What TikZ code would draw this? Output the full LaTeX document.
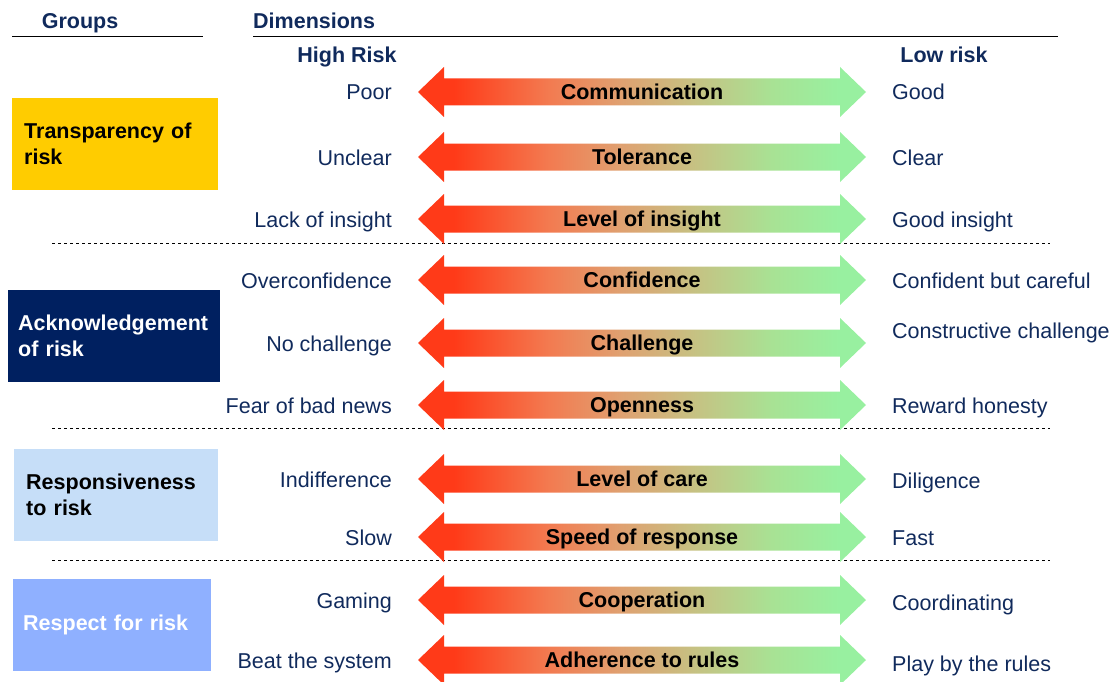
\documentclass[tikz,border=0pt]{standalone}
\usepackage{fontspec}
\setmainfont{Liberation Sans}
\definecolor{navy}{HTML}{102A5C}
\definecolor{boxnavy}{HTML}{002060}
\definecolor{boxyellow}{HTML}{FFCC00}
\definecolor{boxpale}{HTML}{C6DEF8}
\definecolor{boxblue}{HTML}{8FB0FF}
\definecolor{arred}{HTML}{FF3A18}
\definecolor{arorange}{HTML}{F37A50}
\definecolor{artan}{HTML}{E0A070}
\definecolor{arolive}{HTML}{C4C484}
\definecolor{arlime}{HTML}{A8E294}
\definecolor{argreen}{HTML}{98F0A0}
% red-to-green band used for every dimension arrow (path spans 25bp..75bp)
\pgfdeclarehorizontalshading{riskband}{100bp}{color(0bp)=(arred); color(29bp)=(arred); color(39.5bp)=(arorange); color(47.5bp)=(artan); color(56.5bp)=(arolive); color(64.5bp)=(arlime); color(72bp)=(argreen); color(100bp)=(argreen)}
\begin{document}
\begin{tikzpicture}[x=1pt,y=-1pt,
  txt/.style={inner sep=0pt,font=\fontsize{21.5}{26}\selectfont},
  head/.style={txt,font=\fontsize{21.5}{26}\selectfont\bfseries,text=navy},
  lowlab/.style={txt,text=navy,anchor=base east},
  highlab/.style={txt,text=navy,anchor=base west},
  dimlab/.style={txt,font=\fontsize{21.5}{26}\selectfont\bfseries,anchor=base},
  grpbox/.style={anchor=north west,minimum height=92pt,inner ysep=0pt,
    align=left,font=\fontsize{21.5}{26}\selectfont\bfseries},
  rule/.style={line width=1pt},
  sep/.style={line width=0.8pt,dash pattern=on 3pt off 3pt},
  band/.style={shading=riskband}]
\useasboundingbox (0,0) rectangle (1118,682);

% column headings
\node[head,anchor=base] (groups) at (80,29) {Groups};
\node[head,anchor=base west] (dims) at (253,29) {Dimensions};
\draw[rule] (12,37) -- (203,37);
\draw[rule] (253,37) -- (1058,37);
\node[head,anchor=base] (highrisk) at (347,63) {High Risk};
\node[head,anchor=base] (lowrisk) at (944,63) {Low risk};

% group boxes
\node[grpbox,fill=boxyellow,text=black,minimum width=206pt,inner xsep=12pt,text width=182pt]
  (g1) at (12,98) {Transparency of\\risk};
\node[grpbox,fill=boxnavy,text=white,minimum width=211pt,inner xsep=10pt,text width=192pt]
  (g2) at (8,290) {Acknowledgement\\of risk};
\node[grpbox,fill=boxpale,text=black,minimum width=204pt,inner xsep=12pt,text width=180pt]
  (g3) at (14,449) {Responsiveness\\to risk};
\node[grpbox,fill=boxblue,text=white,minimum width=198pt,inner xsep=10pt,text width=178pt]
  (g4) at (13,579) {Respect for risk};

% dashed separators between groups
\draw[sep] (52,243) -- (1050,243);
\draw[sep] (52,428) -- (1050,428);
\draw[sep] (52,560) -- (1050,560);

% dimension rows: double arrow with high/low risk descriptions
\foreach \y/\lt/\dt/\rt/\ry [count=\i] in {
  92/Poor/Communication/Good/92,
  157/Unclear/Tolerance/Clear/157,
  219/Lack of insight/Level of insight/Good insight/219,
  280/Overconfidence/Confidence/Confident but careful/280,
  343/No challenge/Challenge/Constructive challenge/330,
  405/Fear of bad news/Openness/Reward honesty/405,
  479/Indifference/Level of care/Diligence/480,
  537/Slow/Speed of response/Fast/537,
  600/Gaming/Cooperation/Coordinating/602,
  660/Beat the system/Adherence to rules/Play by the rules/663}{
  \shade[band] (418,\y) -- (444,\y-25) -- (444,\y-13.5) -- (840,\y-13.5)
    -- (840,\y-25) -- (866,\y) -- (840,\y+25) -- (840,\y+13.5)
    -- (444,\y+13.5) -- (444,\y+25) -- cycle;
  \node[dimlab] (d\i) at (642,\y+7.5) {\dt};
  \node[lowlab] (l\i) at (392,\y+8) {\lt};
  \node[highlab] (r\i) at (892,\ry+8) {\rt};
}
\end{tikzpicture}
\end{document}
